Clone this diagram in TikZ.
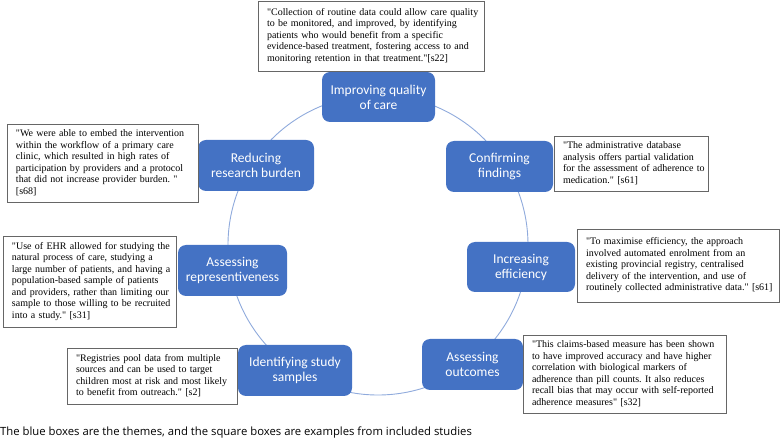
\documentclass[tikz,border=0pt]{standalone}
\usepackage{fontspec}
\setmainfont{Liberation Serif}
\newfontfamily\themefont{Carlito}
\newfontfamily\capfont{Open Sans}
\definecolor{themeblue}{HTML}{4472C4}
\definecolor{ringblue}{HTML}{8FAADC}
\definecolor{quotegray}{HTML}{666666}
\newcommand\qlines[1]{\begin{tabular}[c]{@{}l@{}}#1\end{tabular}}
\newcommand\dq{\textquotedbl}
\frenchspacing
\begin{document}
\begin{tikzpicture}[x=1pt,y=-1pt,
  theme/.style={draw=none, fill=themeblue, rounded corners=8pt, text=white,
    font=\themefont\fontsize{13.5}{15}\selectfont, align=center, inner sep=0pt},
  quote/.style={draw=quotegray, line width=0.9pt, fill=white, align=left, inner sep=0pt,
    font=\frenchspacing\fontsize{10}{11.5}\selectfont},
  ring/.style={draw=ringblue, line width=0.9pt}
]
\useasboundingbox (0,0) rectangle (780,446);
% ring
\draw[ring] (378,245) circle (150);
% themes
\node[theme, minimum width=113, minimum height=50] (t1) at (378.5,97) {Improving quality\\of care};
\node[theme, minimum width=107, minimum height=51] (t2) at (499.5,166.5) {Confirming\\findings};
\node[theme, minimum width=108, minimum height=50] (t3) at (521,267) {Increasing\\efficiency};
\node[theme, minimum width=101, minimum height=51] (t4) at (472.5,364.5) {Assessing\\outcomes};
\node[theme, minimum width=114, minimum height=51] (t5) at (295,370.5) {Identifying study\\samples};
\node[theme, minimum width=109, minimum height=51] (t6) at (232.5,270.5) {Assessing\\representiveness};
\node[theme, minimum width=116, minimum height=51] (t7) at (256,165.5) {Reducing\\research burden};
% quotes
\node[quote, minimum width=226, minimum height=70, text width=208] (q1) at (371,36)
 {\qlines{\dq Collection of routine data could allow care quality\\
 to be monitored, and improved, by identifying\\
 patients who would benefit from a specific\\
 evidence-based treatment, fostering access to and\\
 monitoring retention in that treatment.\dq{}[s22]}};
\node[quote, minimum width=191, minimum height=78, text width=173] (q7) at (102.5,163)
 {\qlines{\dq We were able to embed the intervention\\
 within the workflow of a primary care\\
 clinic, which resulted in high rates of\\
 participation by providers and a protocol\\
 that did not increase provider burden. \dq\\
 {}[s68]}};
\node[quote, minimum width=154, minimum height=55, text width=136] (q2) at (631,163.5)
 {\qlines{\dq The administrative database\\
 analysis offers partial validation\\
 for the assessment of adherence to\\
 medication.\dq{} [s61]}};
\node[quote, minimum width=202, minimum height=73, text width=184] (q3) at (678,265.5)
 {\qlines{\dq To maximise efficiency, the approach\\
 involved automated enrolment from an\\
 existing provincial registry, centralised\\
 delivery of the intervention, and use of\\
 routinely collected administrative data.\dq{} [s61]}};
\node[quote, minimum width=203, minimum height=78, text width=185] (q4) at (624.5,374)
 {\qlines{\dq This claims-based measure has been shown\\
 to have improved accuracy and have higher\\
 correlation with biological markers of\\
 adherence than pill counts. It also reduces\\
 recall bias that may occur with self-reported\\
 adherence measures\dq{} [s32]}};
\node[quote, minimum width=173, minimum height=91, text width=155] (q6) at (89.5,281.5)
 {\qlines{\dq Use of EHR allowed for studying the\\
 natural process of care, studying a\\
 large number of patients, and having a\\
 population-based sample of patients\\
 and providers, rather than limiting our\\
 sample to those willing to be recruited\\
 into a study.\dq{} [s31]}};
\node[quote, minimum width=170, minimum height=56, text width=152] (q5) at (152,376)
 {\qlines{\dq Registries pool data from multiple\\
 sources and can be used to target\\
 children most at risk and most likely\\
 to benefit from outreach.\dq{} [s2]}};
% caption
\node[anchor=base west, inner sep=0pt, font=\capfont\fontsize{11.3}{13}\selectfont] (cap) at (0,436)
 {The blue boxes are the themes, and the square boxes are examples from included studies};
\end{tikzpicture}
\end{document}
